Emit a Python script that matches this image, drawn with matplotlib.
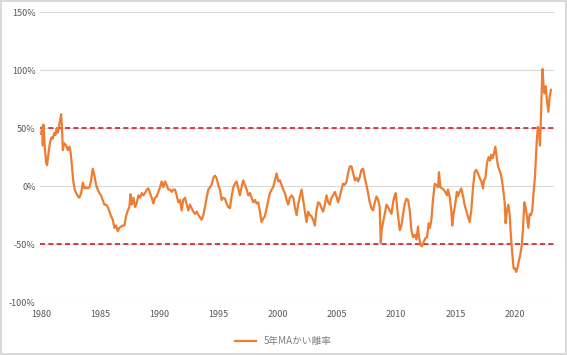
import numpy as np
import matplotlib
matplotlib.use("Agg")
import matplotlib.pyplot as plt

plt.rcParams['font.family'] = ['Noto Sans CJK JP', 'DejaVu Sans']

# 5-year moving average deviation (year, %)
years = [
    1980.00, 1980.08, 1980.14, 1980.20, 1980.28, 1980.42, 1980.50, 1980.65, 1980.76, 1980.87,
    1980.99, 1981.12, 1981.20, 1981.32, 1981.40, 1981.55, 1981.69, 1981.77, 1981.83, 1981.94,
    1982.11, 1982.25, 1982.39, 1982.50, 1982.60, 1982.73, 1982.84, 1982.95, 1983.12, 1983.23,
    1983.38, 1983.52, 1983.66, 1983.80, 1983.94, 1984.08, 1984.22, 1984.36, 1984.50, 1984.64,
    1984.78, 1984.92, 1985.06, 1985.20, 1985.34, 1985.49, 1985.63, 1985.77, 1985.91, 1986.05,
    1986.19, 1986.33, 1986.47, 1986.61, 1986.75, 1986.89, 1987.03, 1987.17, 1987.32, 1987.45,
    1987.55, 1987.65, 1987.79, 1987.93, 1988.07, 1988.21, 1988.35, 1988.50, 1988.63, 1988.78,
    1988.92, 1989.06, 1989.20, 1989.34, 1989.48, 1989.62, 1989.76, 1989.90, 1990.04, 1990.18,
    1990.32, 1990.46, 1990.60, 1990.74, 1990.89, 1991.03, 1991.17, 1991.31, 1991.45, 1991.59,
    1991.73, 1991.87, 1992.00, 1992.15, 1992.30, 1992.43, 1992.57, 1992.71, 1992.85, 1993.00,
    1993.14, 1993.28, 1993.42, 1993.56, 1993.70, 1993.84, 1993.98, 1994.12, 1994.26, 1994.40,
    1994.54, 1994.68, 1994.82, 1994.96, 1995.10, 1995.25, 1995.38, 1995.53, 1995.67, 1995.80,
    1995.95, 1996.09, 1996.23, 1996.37, 1996.51, 1996.65, 1996.79, 1996.93, 1997.07, 1997.22,
    1997.36, 1997.50, 1997.64, 1997.78, 1997.92, 1998.06, 1998.20, 1998.34, 1998.48, 1998.62,
    1998.76, 1998.90, 1999.05, 1999.19, 1999.33, 1999.47, 1999.60, 1999.75, 1999.89, 2000.03,
    2000.17, 2000.31, 2000.45, 2000.59, 2000.74, 2000.87, 2001.01, 2001.16, 2001.30, 2001.43,
    2001.58, 2001.71, 2001.86, 2002.00, 2002.14, 2002.28, 2002.42, 2002.56, 2002.70, 2002.84,
    2002.98, 2003.12, 2003.26, 2003.40, 2003.54, 2003.69, 2003.82, 2003.97, 2004.11, 2004.25,
    2004.39, 2004.53, 2004.67, 2004.81, 2004.95, 2005.09, 2005.23, 2005.37, 2005.50, 2005.65,
    2005.80, 2005.93, 2006.08, 2006.22, 2006.36, 2006.50, 2006.64, 2006.78, 2006.92, 2007.06,
    2007.20, 2007.34, 2007.48, 2007.62, 2007.76, 2007.90, 2008.04, 2008.19, 2008.33, 2008.47,
    2008.60, 2008.69, 2008.77, 2008.89, 2009.03, 2009.17, 2009.30, 2009.45, 2009.60, 2009.73,
    2009.87, 2009.96, 2010.07, 2010.19, 2010.30, 2010.44, 2010.58, 2010.72, 2010.86, 2011.00,
    2011.14, 2011.28, 2011.42, 2011.56, 2011.70, 2011.84, 2011.92, 2012.07, 2012.18, 2012.32,
    2012.46, 2012.60, 2012.74, 2012.85, 2012.97, 2013.10, 2013.25, 2013.38, 2013.53, 2013.61,
    2013.73, 2013.86, 2014.00, 2014.14, 2014.28, 2014.37, 2014.51, 2014.65, 2014.73, 2014.84,
    2014.99, 2015.12, 2015.20, 2015.35, 2015.49, 2015.63, 2015.77, 2015.91, 2016.05, 2016.20,
    2016.34, 2016.47, 2016.62, 2016.76, 2016.90, 2017.05, 2017.19, 2017.33, 2017.41, 2017.53,
    2017.67, 2017.80, 2017.92, 2018.03, 2018.14, 2018.25, 2018.37, 2018.48, 2018.60, 2018.71,
    2018.82, 2018.93, 2019.05, 2019.16, 2019.24, 2019.35, 2019.47, 2019.58, 2019.68, 2019.80,
    2019.92, 2020.03, 2020.14, 2020.25, 2020.37, 2020.48, 2020.59, 2020.70, 2020.82, 2020.93,
    2021.04, 2021.16, 2021.27, 2021.38, 2021.49, 2021.60, 2021.72, 2021.80, 2021.89, 2021.97,
    2022.06, 2022.14, 2022.23, 2022.31, 2022.36, 2022.45, 2022.53, 2022.62, 2022.73, 2022.85,
    2022.96, 2023.07,
]
deviation = [
    45, 51, 35, 53, 37, 20, 18, 31, 38, 42,
    41, 46, 44, 50, 46, 54, 62, 48, 31, 37,
    35, 31, 34, 28, 17, 3, -3, -6, -9, -10,
    -6, 3, -2, -1, -2, -1, 5, 15, 9, 1,
    -3, -6, -8, -12, -16, -16, -18, -22, -26, -29,
    -36, -34, -39, -36, -35, -34, -34, -26, -21, -18,
    -7, -16, -10, -18, -15, -8, -10, -6, -8, -6,
    -3, -2, -6, -10, -15, -10, -9, -5, -1, 4,
    -1, 4, 1, -3, -3, -5, -3, -3, -8, -14,
    -12, -21, -12, -10, -16, -21, -16, -19, -22, -24,
    -22, -25, -27, -29, -25, -18, -10, -3, -1, 1,
    7, 9, 7, 1, -3, -12, -10, -11, -15, -18,
    -19, -9, -1, 2, 4, -2, -8, -1, 5, 1,
    -3, -8, -6, -10, -14, -12, -15, -14, -22, -31,
    -28, -26, -19, -12, -6, -3, -1, 5, 11, 4,
    5, 1, -3, -6, -12, -16, -10, -8, -10, -18,
    -25, -16, -9, -3, -12, -22, -31, -22, -25, -26,
    -29, -34, -21, -14, -15, -19, -22, -16, -8, -14,
    -16, -10, -8, -5, -9, -14, -9, -3, 2, 1,
    4, 11, 17, 17, 11, 5, 7, 4, 8, 14,
    15, 7, 1, -6, -14, -19, -21, -14, -9, -12,
    -18, -49, -38, -31, -24, -16, -18, -21, -24, -14,
    -8, -6, -18, -29, -38, -34, -24, -15, -11, -12,
    -21, -38, -44, -42, -46, -35, -44, -51, -52, -48,
    -45, -44, -32, -36, -29, -12, 2, 1, -1, 12,
    -1, -2, -3, -5, -8, -3, -9, -21, -34, -24,
    -15, -5, -9, -5, -2, -8, -16, -21, -26, -31,
    -21, -3, 12, 14, 11, 7, 4, -2, 5, 7,
    20, 25, 22, 27, 24, 28, 34, 25, 17, 14,
    11, 5, -4, -14, -32, -21, -16, -24, -42, -58,
    -71, -71, -74, -70, -64, -59, -52, -38, -14, -18,
    -26, -36, -24, -25, -21, -6, 8, 25, 42, 51,
    48, 35, 61, 89, 101, 86, 80, 86, 74, 64,
    77, 83,
]
band_levels = [50, -50]
year_ticks = list(range(1980, 2021, 5))
pct_ticks = [-100, -50, 0, 50, 100, 150]
series_name = '5年MAかい離率'

fig = plt.figure(figsize=(5.67, 3.55), dpi=100)
fig.patch.set_edgecolor('#d9d9d9')
fig.patch.set_linewidth(1.5)
ax = fig.add_axes([0.0705, 0.149, 0.906, 0.817])

for lv in pct_ticks:
    ax.axhline(lv, color='#d9d9d9', lw=0.8, zorder=0)

ax.plot(years, deviation, color='#ED7D31', lw=1.6, label=series_name, zorder=3,
        solid_joinstyle='round')
for lv in band_levels:
    ax.axhline(lv, color='#D0202A', lw=1.2, ls=(0, (3, 2)), zorder=2)

ax.set_xlim(1979.9, 2023.3)
ax.set_ylim(-100, 150)
ax.set_xticks(year_ticks)
ax.set_yticks(pct_ticks)
ax.set_yticklabels([f'{v}%' for v in pct_ticks])
ax.tick_params(length=0, labelsize=6.5, labelcolor='#595959', pad=3)
ax.tick_params(axis='x', pad=6)
for s in ax.spines.values():
    s.set_visible(False)

fig.legend(loc='lower center', bbox_to_anchor=(0.5, 0.0), frameon=False,
           fontsize=7, labelcolor='#7f7f7f', handlelength=2.2)

fig.savefig('out.png', dpi=100)
